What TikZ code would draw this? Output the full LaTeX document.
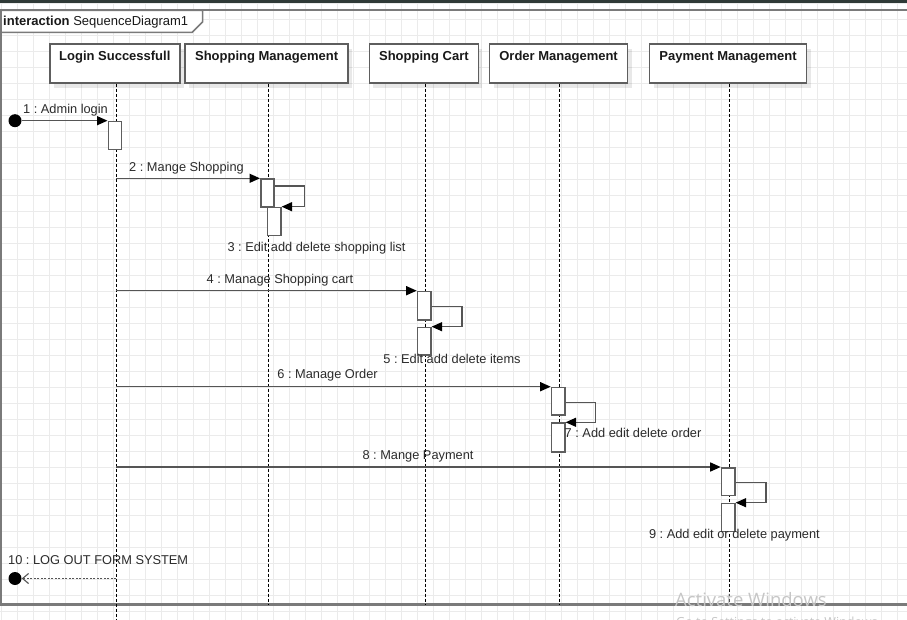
\documentclass[tikz,border=0pt]{standalone}
\usepackage{fontspec}
\setmainfont{Liberation Sans}
\newfontfamily\wmfont{Open Sans}
\usetikzlibrary{arrows.meta,calc,shadows}
\definecolor{gridline}{HTML}{EBEBEB}
\definecolor{framegray}{HTML}{7A7A7A}
\definecolor{topbar}{HTML}{2F3A37}
\definecolor{boxgray}{HTML}{5E5E5E}
\definecolor{msggray}{HTML}{555555}
\definecolor{labelgray}{HTML}{2B2B2B}
\definecolor{watermark}{HTML}{C6C6C6}
\frenchspacing

\begin{document}
\begin{tikzpicture}[x=1pt,y=-1pt,
  head/.style={draw=boxgray, line width=1.6pt, fill=white, minimum width=#1,
    minimum height=39pt, inner xsep=0pt, inner ysep=0pt,
    text height=17pt, text depth=22pt, anchor=north west, text=black!90,
    font=\fontsize{13}{15}\selectfont\bfseries,
    drop shadow={shadow xshift=4pt, shadow yshift=-5pt, opacity=0.09, fill=black}},
  act/.style={draw=boxgray, line width=1.6pt, fill=white, minimum width=13.3pt,
    minimum height=#1, inner sep=0pt, anchor=north west},
  act/.default=28pt,
  lifeline/.style={draw=black, line width=0.9pt, dash pattern=on 3pt off 2pt},
  msg/.style={draw=msggray, line width=1.4pt,
    -{Triangle[length=10.5pt,width=9pt,color=black]}},
  ret/.style={draw=msggray, line width=1.2pt, dash pattern=on 2pt off 1.5pt,
    -{Straight Barb[length=6pt,width=10pt,line width=1.1pt]}},
  endpoint/.style={circle, fill=black, minimum size=13pt, inner sep=0pt},
  msglabel/.style={font=\fontsize{12.8}{14}\selectfont, text=labelgray, inner sep=0pt},
]
\useasboundingbox (0,0) rectangle (907,620);
\clip (0,0) rectangle (907,620);
\fill[white] (0,0) rectangle (907,620);

% background grid
\foreach \gx in {1.5,17.5,...,907} \draw[gridline, line width=1pt] (\gx,0) -- (\gx,620);
\foreach \gy in {3.5,19.5,...,620} \draw[gridline, line width=1pt] (0,\gy) -- (907,\gy);

% window bar and interaction frame
\fill[topbar] (0,0) rectangle (907,3.5);
\draw[framegray, line width=2pt] (0,10.5) -- (907,10.5);
\draw[framegray, line width=2pt] (1,10.5) -- (1,604.5);
\draw[framegray, line width=2.5pt] (0,604.5) -- (907,604.5);
\draw[framegray, line width=1.5pt, fill=white]
  (1,10.5) -- (202.5,10.5) -- (202.5,22) -- (192,32.5) -- (1,32.5) -- cycle;
\node[anchor=west, inner sep=0pt, font=\fontsize{13}{15}\selectfont, text=black!90]
  (frameLabel) at (3,22) {\textbf{interaction} SequenceDiagram1};

% lifeline heads
\node[head=130pt] (login) at (49,43) {Login Successfull};
\node[head=163pt] (shopMgmt) at (184.3,43) {Shopping Management};
\node[head=109pt] (cart) at (368.6,43) {Shopping Cart};
\node[head=138pt] (order) at (488.8,43) {Order Management};
\node[head=157pt] (payment) at (648.8,43) {Payment Management};

\coordinate (loginL) at ($(login.south)+(1.6,0)$);
\coordinate (shopL) at ($(shopMgmt.south)+(1.5,0)$);
\coordinate (cartL) at ($(cart.south)+(1.3,0)$);
\coordinate (orderL) at ($(order.south)+(0.8,0)$);
\coordinate (payL) at ($(payment.south)+(1.4,0)$);

% lifelines
\draw[lifeline] (loginL) -- ++(0,538);
\draw[lifeline] (shopL) -- ++(0,521);
\draw[lifeline] (cartL) -- ++(0,521);
\draw[lifeline] (orderL) -- ++(0,521);
\draw[lifeline] (payL) -- ++(0,521);

% activations
\node[act] (act1) at (107.5,120.7) {};
\node[act] (act2a) at (260,178.3) {};
\node[act] (act2b) at (266.7,206.7) {};
\node[act=28.3pt] (act4a) at (416.7,290.7) {};
\node[act=27.6pt] (act4b) at (416.7,326.7) {};
\node[act=27.6pt] (act6a) at (550.7,386.7) {};
\node[act=28.7pt] (act6b) at (550.7,422.3) {};
\node[act=27.7pt] (act8a) at (720.7,467) {};
\node[act] (act8b) at (720.7,502.7) {};

% start and end points
\node[endpoint] (start) at (15,120.7) {};
\node[endpoint] (finish) at (15,578.5) {};

% messages
\draw[msg] (start) -- (act1.north west);
\draw[msg] (loginL |- act2a.north west) -- (act2a.north west);
\draw[msg] ($(act2a.north east)+(0,7.7)$) -- ++(29.7,0) |- (act2b.north east);
\draw[msg] (loginL |- act4a.north west) -- (act4a.north west);
\draw[msg] ($(act4a.north east)+(0,16)$) -- ++(30.3,0) |- (act4b.north east);
\draw[msg] (loginL |- act6a.north west) -- (act6a.north west);
\draw[msg] ($(act6a.north east)+(0,16)$) -- ++(30,0) |- (act6b.north east);
\draw[msg] (loginL |- act8a.north west) -- (act8a.north west);
\draw[msg] ($(act8a.north east)+(0,15.7)$) -- ++(30.3,0) |- (act8b.north east);
\draw[ret] (loginL |- finish) -- (finish);

% message labels
\node[msglabel] (lab1) at (65.5,110.5) {1 : Admin login};
\node[msglabel] (lab2) at (186.5,168.3) {2 : Mange Shopping};
\node[msglabel] (lab3) at (316.5,248) {3 : Edit add delete shopping list};
\node[msglabel] (lab4) at (280,280.5) {4 : Manage Shopping cart};
\node[msglabel] (lab5) at (452,359.3) {5 : Edit add delete items};
\node[msglabel] (lab6) at (327.5,375) {6 : Manage Order};
\node[msglabel] (lab7) at (633,432.7) {7 : Add edit delete order};
\node[msglabel] (lab8) at (418,456) {8 : Mange Payment};
\node[msglabel] (lab9) at (734.4,534.7) {9 : Add edit or delete payment};
\node[msglabel, anchor=west] (lab10) at (8,560) {10 : LOG OUT FORM SYSTEM};

% system watermark
\node[anchor=west, inner sep=0pt, text=watermark, font=\wmfont\fontsize{18.5}{20}\selectfont]
  (wm1) at (675,599.5) {Activate Windows};
\node[anchor=west, inner sep=0pt, text=watermark, font=\wmfont\fontsize{12.5}{14}\selectfont]
  (wm2) at (676,623) {Go to Settings to activate Windows.};
\end{tikzpicture}
\end{document}
